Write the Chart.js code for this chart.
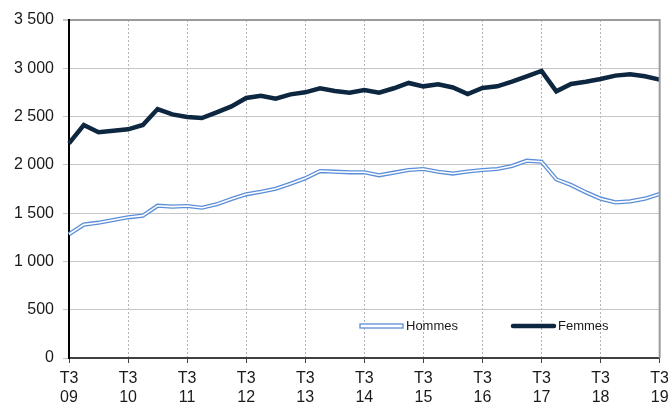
<!DOCTYPE html>
<html>
<head>
<meta charset="utf-8">
<script src="https://cdn.jsdelivr.net/npm/chart.js@4"></script>
<style>
  html, body { margin: 0; padding: 0; background: #fff; overflow: hidden; }
  #wrap { width: 675px; height: 405px; }
</style>
</head>
<body>
<div id="wrap"><canvas id="chart"></canvas></div>
<script>
const years = ["09", "10", "11", "12", "13", "14", "15", "16", "17", "18", "19"];
const quarterNames = ["T3", "T4", "T1", "T2"];

// quarterly labels from T3 09 to T3 19
const labels = [];
for (let i = 0; i <= 40; i++) {
    const q = quarterNames[i % 4];
    const y = years[Math.floor((i + 2) / 4)];
    labels.push(q + " " + y);
}

const hommes = [1281, 1381, 1401, 1429, 1457, 1474, 1577, 1567, 1574, 1556, 1591, 1646,
    1695, 1722, 1753, 1805, 1861, 1936, 1929, 1923, 1923, 1892, 1919, 1947, 1957, 1929,
    1910, 1931, 1947, 1957, 1988, 2043, 2033, 1850, 1791, 1716, 1650, 1612, 1622, 1650, 1698];

const femmes = [2223, 2413, 2337, 2354, 2368, 2413, 2578, 2523, 2496, 2485, 2544, 2605,
    2692, 2716, 2685, 2730, 2751, 2793, 2765, 2747, 2775, 2747, 2793, 2848, 2813, 2834,
    2801, 2734, 2796, 2813, 2861, 2917, 2972, 2761, 2837, 2861, 2889, 2924, 2937, 2917, 2882];

const blue = "#5b8ed8";
const navy = "#0e2741";

// right frame line + legend drawn inside the plot
const framePlugin = {
    id: "frame",
    afterDraw(chart) {
        const { ctx, chartArea } = chart;
        ctx.save();
        ctx.strokeStyle = "#9a9a9a";
        ctx.lineWidth = 2;
        ctx.beginPath();
        ctx.moveTo(chartArea.right, chartArea.top - 1);
        ctx.lineTo(chartArea.right, chartArea.bottom);
        ctx.stroke();

        const ly = chartArea.bottom - 32;
        // Hommes
        ctx.fillStyle = "#fff";
        ctx.strokeStyle = blue;
        ctx.lineWidth = 1.3;
        ctx.fillRect(chartArea.left + 291, ly - 2, 43, 4);
        ctx.strokeRect(chartArea.left + 291, ly - 2, 43, 4);
        ctx.font = "13px 'Liberation Sans', Arial, sans-serif";
        ctx.fillStyle = "#1a1a1a";
        ctx.textBaseline = "middle";
        ctx.fillText("Hommes", chartArea.left + 337, ly + 0.5);
        // Femmes
        ctx.strokeStyle = navy;
        ctx.lineWidth = 4.5;
        ctx.lineCap = "round";
        ctx.beginPath();
        ctx.moveTo(chartArea.left + 444, ly);
        ctx.lineTo(chartArea.left + 485, ly);
        ctx.stroke();
        ctx.fillText("Femmes", chartArea.left + 489, ly + 0.5);
        ctx.restore();
    }
};

new Chart("chart", {
    type: "line",
    data: {
        labels: labels,
        datasets: [
            {
                // white core of the double line, drawn on top
                label: "Hommes centre",
                data: hommes,
                borderColor: "#ffffff",
                borderWidth: 1.6,
                pointRadius: 0,
                tension: 0,
                fill: false
            },
            {
                label: "Hommes",
                data: hommes,
                borderColor: blue,
                borderWidth: 4.2,
                pointRadius: 0,
                tension: 0,
                fill: false
            },
            {
                label: "Femmes",
                data: femmes,
                borderColor: navy,
                borderWidth: 4.5,
                pointRadius: 0,
                tension: 0,
                fill: false
            }
        ]
    },
    options: {
        responsive: true,
        maintainAspectRatio: false,
        animation: false,
        layout: { padding: { top: 20, left: 0, right: 0, bottom: 0 } },
        plugins: {
            legend: { display: false },
            tooltip: { enabled: false }
        },
        scales: {
            x: {
                offset: false,
                afterFit: function (scale) { scale.height = 47; },
                border: { color: "#404040", width: 2, dash: [2, 2] },
                grid: {
                    color: "#b4b4b4",
                    lineWidth: 1,
                    tickLength: 5,
                    tickColor: "#404040"
                },
                ticks: {
                    autoSkip: false,
                    maxRotation: 0,
                    padding: 6,
                    color: "#1a1a1a",
                    font: { family: "'Liberation Sans', Arial, sans-serif", size: 16, lineHeight: 1.2 },
                    callback: function (val, i) {
                        if (i % 4 !== 0) return null;
                        return labels[i].split(" ");
                    }
                }
            },
            y: {
                min: 0,
                max: 3500,
                afterFit: function (scale) { scale.width = 69; },
                border: { color: "#000", width: 2 },
                grid: {
                    color: function (c) {
                        if (c.tick.value === 3500) return "#9a9a9a";
                        return "#c6c6c6";
                    },
                    lineWidth: function (c) { return c.tick.value === 3500 ? 2 : 1; },
                    tickLength: 6,
                    tickColor: "#c6c6c6"
                },
                ticks: {
                    stepSize: 500,
                    padding: 9,
                    color: "#1a1a1a",
                    font: { family: "'Liberation Sans', Arial, sans-serif", size: 16 },
                    callback: function (v) {
                        return String(v).replace(/\B(?=(\d{3})+(?!\d))/g, " ");
                    }
                }
            }
        }
    },
    plugins: [framePlugin]
});
</script>
</body>
</html>
